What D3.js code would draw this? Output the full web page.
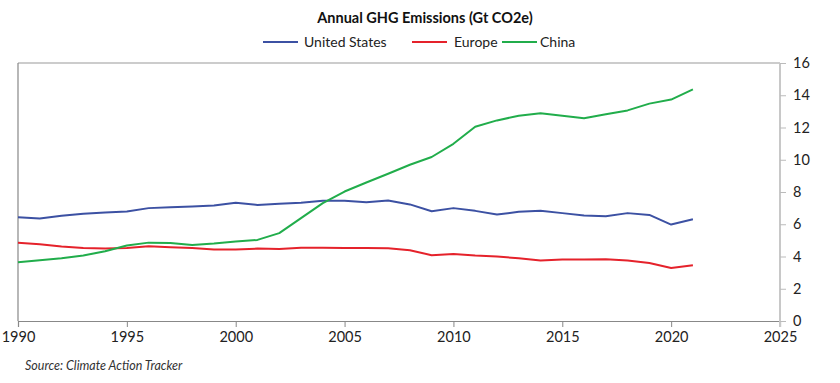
<!DOCTYPE html>
<html>
<head>
<meta charset="utf-8">
<script src="https://cdn.jsdelivr.net/npm/d3@7"></script>
<style>
  body { margin: 0; background: #fff; }
  svg { display: block; font-family: Lato, "Open Sans", sans-serif; }
</style>
</head>
<body>
<svg id="chart" width="840" height="383"></svg>
<script>
const years = [1990,1991,1992,1993,1994,1995,1996,1997,1998,1999,2000,2001,2002,2003,2004,2005,2006,2007,2008,2009,2010,2011,2012,2013,2014,2015,2016,2017,2018,2019,2020,2021];
const unitedStates = [6.44,6.36,6.52,6.65,6.73,6.79,7.0,7.06,7.1,7.16,7.33,7.2,7.27,7.33,7.45,7.45,7.37,7.47,7.23,6.81,7.0,6.83,6.6,6.77,6.83,6.69,6.54,6.5,6.69,6.58,5.98,6.31];
const europe = [4.86,4.76,4.62,4.53,4.49,4.53,4.64,4.58,4.53,4.43,4.43,4.49,4.47,4.55,4.55,4.53,4.53,4.51,4.39,4.08,4.16,4.06,4.0,3.89,3.75,3.81,3.81,3.83,3.75,3.6,3.29,3.46];
const china = [3.64,3.77,3.89,4.06,4.33,4.68,4.86,4.84,4.72,4.8,4.93,5.03,5.45,6.38,7.31,8.03,8.59,9.13,9.69,10.17,10.99,12.05,12.44,12.73,12.88,12.73,12.57,12.82,13.06,13.48,13.73,14.37];
const seriesNames = ["United States", "Europe", "China"];
const seriesColors = ["#3c51a3", "#e5222b", "#21ad4b"];
const xTicks = [1990,1995,2000,2005,2010,2015,2020,2025];
const yTicks = [0,2,4,6,8,10,12,14,16];
const titleText = "Annual GHG Emissions (Gt CO2e)";
const sourceText = "Source: Climate Action Tracker";

const seriesValues = [unitedStates, europe, china];

const svg = d3.select("#chart");
const mLeft = 18, mRight = 780, mTop = 63, mBottom = 321;

const x = d3.scaleLinear().domain([1990, 2025]).range([mLeft, mRight]);
const y = d3.scaleLinear().domain([0, 16]).range([mBottom, mTop]);

// Title
svg.append("text")
  .attr("x", 425).attr("y", 23)
  .attr("text-anchor", "middle")
  .attr("font-size", 14.5).attr("font-weight", 700)
  .attr("fill", "#111")
  .text(titleText);

// Legend
const legendItems = [
  {lx: 263, tx: 304},
  {lx: 412, tx: 454},
  {lx: 502, tx: 540}
];
legendItems.forEach((d, i) => {
  svg.append("line")
    .attr("x1", d.lx).attr("x2", d.lx + 35)
    .attr("y1", 42).attr("y2", 42)
    .attr("stroke", seriesColors[i]).attr("stroke-width", 2);
  svg.append("text")
    .attr("x", d.tx).attr("y", 47)
    .attr("font-size", 14).attr("fill", "#222")
    .text(seriesNames[i]);
});

// Frame: top line
svg.append("line")
  .attr("x1", mLeft).attr("x2", mRight)
  .attr("y1", mTop).attr("y2", mTop)
  .attr("stroke", "#999").attr("stroke-width", 1.2);
// Left line
svg.append("line")
  .attr("x1", mLeft).attr("x2", mLeft)
  .attr("y1", mTop).attr("y2", mBottom)
  .attr("stroke", "#888").attr("stroke-width", 1.2);

// Bottom axis
const xAxis = svg.append("g")
  .attr("transform", `translate(0,${mBottom})`)
  .call(d3.axisBottom(x).tickValues(xTicks).tickFormat(d3.format("d")).tickSize(6).tickPadding(5));
xAxis.select(".domain").attr("stroke", "#888").attr("stroke-width", 1.2);
xAxis.selectAll(".tick line").attr("stroke", "#888");
xAxis.selectAll(".tick text")
  .attr("font-size", 14.5).attr("fill", "#222")
  .attr("font-family", "Lato, 'Open Sans', sans-serif");

// Right axis
const yAxis = svg.append("g")
  .attr("transform", `translate(${mRight},0)`)
  .call(d3.axisRight(y).tickValues(yTicks).tickSize(6).tickPadding(7));
yAxis.select(".domain").attr("stroke", "#c8c8c8").attr("stroke-width", 2)
  .attr("d", `M0,${mTop}V${mBottom + 6}`);
yAxis.selectAll(".tick line").attr("stroke", "#bbb");
yAxis.selectAll(".tick text")
  .attr("font-size", 14.5).attr("fill", "#222")
  .attr("font-family", "Lato, 'Open Sans', sans-serif");

// Lines
const line = d3.line().x((d, i) => x(years[i])).y(d => y(d));
seriesValues.forEach((vals, i) => {
  svg.append("path")
    .datum(vals)
    .attr("fill", "none")
    .attr("stroke", seriesColors[i])
    .attr("stroke-width", 2)
    .attr("stroke-linejoin", "round")
    .attr("d", line);
});

// Source
svg.append("text")
  .attr("x", 25).attr("y", 370)
  .attr("font-size", 12.5).attr("font-style", "italic")
  .attr("fill", "#333")
  .text(sourceText);
</script>
</body>
</html>
